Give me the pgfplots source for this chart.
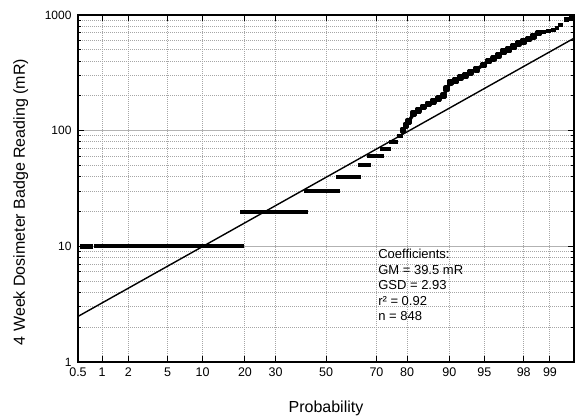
\documentclass[border=0pt]{standalone}
\usepackage{fontspec}
\setmainfont{Liberation Sans}
\usepackage{pgfplots}
\pgfplotsset{compat=1.18}

% Probability axis: x is the standard normal quantile z of the cumulative probability.
% Tick positions are z(0.5%), z(1%), ..., z(99%).

\begin{document}
\begin{tikzpicture}
\useasboundingbox (-78pt,-57pt) rectangle (497pt,362pt);
\begin{axis}[
  at={(0pt,0pt)}, anchor=south west,
  scale only axis, width=496pt, height=347pt,
  xmin=-2.5758, xmax=2.5758,
  ymode=log, ymin=1, ymax=1000,
  /pgf/number format/assume math mode=true,
  xtick={-2.5758,-2.3263,-2.0537,-1.6449,-1.2816,-0.8416,-0.5244,0,0.5244,0.8416,1.2816,1.6449,2.0537,2.3263},
  xticklabels={0.5,1,2,5,10,20,30,50,70,80,90,95,98,99},
  ytick={1,10,100,1000},
  yticklabels={1,10,100,1000},
  minor ytick={2,3,4,5,6,7,8,9,20,30,40,50,60,70,80,90,200,300,400,500,600,700,800,900},
  xtick pos=both, ytick pos=both,
  xticklabel pos=left, yticklabel pos=left,
  tick align=inside,
  major tick length=6pt, minor tick length=3.5pt,
  every tick/.style={black, line width=1pt},
  axis line style={black, line width=1.6pt},
  yticklabel style={font=\fontsize{12}{14}\selectfont, xshift=-3pt},
  xticklabel style={font=\fontsize{12.5}{15}\selectfont, yshift=-2.5pt},
  xmajorgrids, yminorgrids,
  major grid style={gray!70, line width=1pt, dash pattern=on 1pt off 1pt},
  minor grid style={gray!70, line width=1pt, dash pattern=on 1pt off 1pt},
  extra y ticks={10,100},
  extra y tick labels={},
  extra y tick style={ymajorgrids=true, major grid style={gray!60, line width=1pt, solid}},
  xlabel={Probability},
  ylabel={4 Week Dosimeter Badge Reading (mR)},
  label style={font=\fontsize{16}{18}\selectfont},
  x label style={at={(axis description cs:0.5,0)}, anchor=base, yshift=-51pt},
  y label style={at={(axis description cs:0,0.461)}, anchor=base, yshift=53pt},
]

% tied readings (many badges at the same value)
\addplot[black, line width=4pt, forget plot] coordinates {(-2.410,10) (-0.848,10)};
\addplot[black, only marks, mark=square*, mark size=1.7pt, forget plot]
  coordinates {(-2.534,10) (-2.483,10) (-2.441,10)};
\addplot[black, line width=4pt, forget plot] coordinates {(-0.890,20) (-0.186,20)};
\addplot[black, line width=4pt, forget plot] coordinates {(-0.228,30) (0.145,30)};
\addplot[black, line width=4pt, forget plot] coordinates {(0.100,40) (0.365,40)};
\addplot[black, line width=4pt, forget plot] coordinates {(0.334,50) (0.469,50)};
\addplot[black, line width=4pt, forget plot] coordinates {(0.428,60) (0.600,60)};
\addplot[black, line width=4pt, forget plot] coordinates {(0.559,70) (0.676,70)};
\addplot[black, line width=4pt, forget plot] coordinates {(0.652,80) (0.745,80)};
\addplot[black, line width=4pt, forget plot] coordinates {(0.735,90) (0.800,90)};

% upper readings, dense part
\addplot[black, line width=3.4pt, line join=round, mark=square*, mark size=1.7pt, forget plot]
  coordinates {
  (0.800,100) (0.830,110) (0.859,120) (0.910,140) (0.962,150) (1.014,160)
  (1.065,170) (1.117,180) (1.169,190) (1.221,200) (1.255,230) (1.290,260)
  (1.342,270) (1.393,290) (1.445,300) (1.497,320) (1.565,340) (1.634,370)
  (1.686,400) (1.738,420) (1.790,450) (1.841,480) (1.893,500) (1.945,530)
  (1.996,570) (2.048,590) (2.100,620) (2.152,650) (2.203,700)};
% highest readings
\addplot[black, only marks, mark=square*, mark size=1.7pt, forget plot]
  coordinates {(2.255,720) (2.307,730) (2.358,750) (2.393,780) (2.434,820) (2.496,920) (2.548,940)};

% lognormal fit: GM = 39.5 mR, GSD = 2.93
\addplot[black, line width=1.4pt, forget plot] coordinates {(-2.5758,2.477) (2.5758,629.7)};

\node[anchor=north west, inner sep=0pt, align=left,
      font=\fontsize{13}{15.5}\selectfont]
  at (rel axis cs:0.605,0.3256)
  {Coefficients:\\GM = 39.5 mR\\GSD = 2.93\\r² = 0.92\\n = 848};
\end{axis}
\end{tikzpicture}
\end{document}
